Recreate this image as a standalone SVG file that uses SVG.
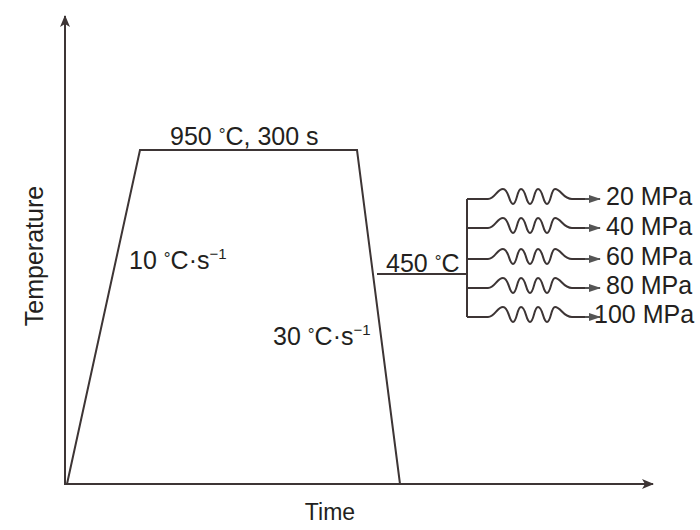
<svg xmlns="http://www.w3.org/2000/svg" width="700" height="530" viewBox="0 0 700 530">
<defs>
<style>
.ln{fill:none;stroke:#3d3535;stroke-width:2}
.br{fill:none;stroke:#3d3535;stroke-width:2}
.t{font-family:"Liberation Sans",Arial,sans-serif;font-size:25px;fill:#231f20}
.ax{font-size:23px}
.sup{font-size:15px}
.deg{font-size:17px}
</style>
<marker id="ah" viewBox="0 0 12 10" refX="11" refY="5" markerWidth="12" markerHeight="10" markerUnits="userSpaceOnUse" orient="auto">
<path d="M0,0 L12,5 L0,10 L3,5 Z" fill="#3d3535"/>
</marker>
<marker id="ah2" viewBox="0 0 12 8" refX="11" refY="4" markerWidth="12" markerHeight="8" markerUnits="userSpaceOnUse" orient="auto">
<path d="M0,0 L12,4 L0,8 Z" fill="#555"/>
</marker>
<path id="wave" d="M0,0 H21 C28,0 30,-10 36,-10 C42,-10 42,5 46,5 C50,5 50,-10 54,-10 C59,-10 59,5 63,5 C67,5 67,-10 71,-10 C76,-10 76,5 80,5 C84,5 84,-10 88,-10 C94,-10 96,0 105,0 H118" class="br"/>
</defs>
<g id="axes" class="connectors">
<line class="ln" x1="65" y1="485" x2="65" y2="16" marker-end="url(#ah)"/>
<line class="ln" x1="65" y1="484" x2="653" y2="484" marker-end="url(#ah)"/>
</g>
<g id="profile">
<polyline class="ln" points="67,484 140,150 357,150 400,484"/>
<polyline class="ln" points="377,274 467,274"/>
<line class="ln" x1="467" y1="199" x2="467" y2="317"/>
</g>
<g id="branches">
<use href="#wave" transform="translate(467,199)"/>
<use href="#wave" transform="translate(467,228)"/>
<use href="#wave" transform="translate(467,259)"/>
<use href="#wave" transform="translate(467,288)"/>
<use href="#wave" transform="translate(467,317)"/>
<g stroke="#555" stroke-width="2" marker-end="url(#ah2)">
<line x1="585" y1="199" x2="600" y2="199"/>
<line x1="585" y1="228" x2="600" y2="228"/>
<line x1="585" y1="259" x2="600" y2="259"/>
<line x1="585" y1="288" x2="600" y2="288"/>
<line x1="585" y1="317" x2="600" y2="317"/>
</g>
</g>
<g id="labels">
<text class="t" x="170" y="145">950 <tspan class="deg" dy="-5">°</tspan><tspan dy="5">C, 300 s</tspan></text>
<text class="t" x="129" y="269">10 <tspan class="deg" dy="-5">°</tspan><tspan dy="5">C·s</tspan><tspan class="sup" dy="-10">−1</tspan></text>
<text class="t" x="273" y="345">30 <tspan class="deg" dy="-5">°</tspan><tspan dy="5">C·s</tspan><tspan class="sup" dy="-10">−1</tspan></text>
<text class="t" x="386" y="272">450 <tspan class="deg" dy="-5">°</tspan><tspan dy="5">C</tspan></text>
<text class="t" x="606" y="205">20 MPa</text>
<text class="t" x="606" y="235">40 MPa</text>
<text class="t" x="606" y="265">60 MPa</text>
<text class="t" x="606" y="294">80 MPa</text>
<text class="t" x="594" y="323">100 MPa</text>
<text class="t ax" x="330" y="520" text-anchor="middle">Time</text>
<text class="t" transform="translate(43,256) rotate(-90)" text-anchor="middle">Temperature</text>
</g>
</svg>
